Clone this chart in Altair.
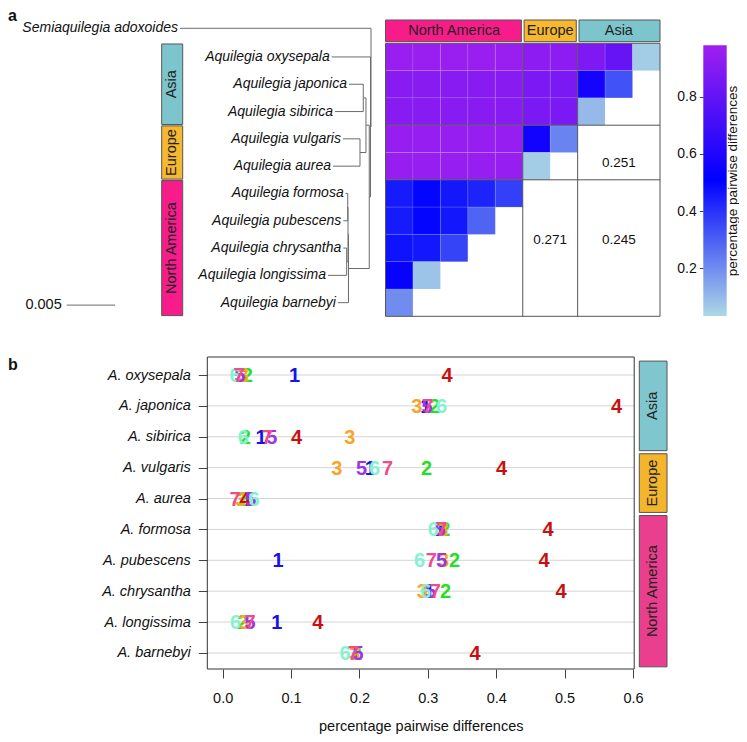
import altair as alt
import pandas as pd

FONT = "Liberation Sans"

# ---------------- data ----------------
SPECIES = ["oxysepala", "japonica", "sibirica", "vulgaris", "aurea",
           "formosa", "pubescens", "chrysantha", "longissima", "barnebyi"]
REGIONS = ["Asia", "Asia", "Asia", "Europe", "Europe",
           "North America", "North America", "North America",
           "North America", "North America"]
OUTGROUP = "Semiaquilegia adoxoides"

# panel a heatmap: rows = SPECIES (top->bottom), columns = SPECIES reversed (left->right)
HEAT_ROWS = [
    [0.96, 0.96, 0.96, 0.96, 0.96, 0.92, 0.92, 0.88, 0.81, 0.06],
    [0.91, 0.91, 0.91, 0.91, 0.91, 0.87, 0.87, 0.57, 0.33],
    [0.91, 0.91, 0.91, 0.91, 0.91, 0.87, 0.87, 0.10],
    [0.95, 0.95, 0.95, 0.95, 0.95, 0.56, 0.22],
    [0.95, 0.95, 0.95, 0.95, 0.95, 0.06],
    [0.45, 0.50, 0.46, 0.43, 0.37],
    [0.45, 0.50, 0.46, 0.29],
    [0.47, 0.46, 0.36],
    [0.53, 0.08],
    [0.20],
]
# block averages written in the empty upper blocks (row region, column region, value)
BLOCK_VALUES = [("North America", "Europe", 0.271),
                ("North America", "Asia", 0.245),
                ("Europe", "Asia", 0.251)]

# tree: depth from root (substitutions / site) and parent of every tip / node
TIP_DEPTH = {OUTGROUP: 0.01977, "oxysepala": 0.00407, "japonica": 0.00228,
             "sibirica": 0.00373, "vulgaris": 0.00290, "aurea": 0.00393,
             "formosa": 0.00262, "pubescens": 0.00287, "chrysantha": 0.00287,
             "longissima": 0.00445, "barnebyi": 0.00342}
NODE_DEPTH = {"root": 0.0, "n1": 0.00005, "n2": 0.00018, "n3": 0.00052,
              "n4": 0.00080, "n5": 0.00114, "n6": 0.00233, "n7": 0.00238,
              "n8": 0.00241, "n9": 0.00252}
PARENT = {OUTGROUP: "root", "oxysepala": "n1", "japonica": "n4", "sibirica": "n4",
          "vulgaris": "n5", "aurea": "n5", "formosa": "n8", "pubescens": "n8",
          "chrysantha": "n9", "longissima": "n9", "barnebyi": "n6",
          "n1": "root", "n2": "n1", "n3": "n2", "n4": "n3", "n5": "n3",
          "n6": "n2", "n7": "n6", "n8": "n7", "n9": "n7"}
SCALE_BAR = 0.005

COLORBAR_TICKS = [0.2, 0.4, 0.6, 0.8]

# panel b: pairwise differences for groups 1..7
GROUP_IDS = ["1", "2", "3", "4", "5", "6", "7"]
GROUP_COLORS = ["#1414e8", "#24e024", "#f7a52a", "#c81010", "#9a36e6", "#84f2cf", "#ee4c8e"]
PAIRWISE = [
    [0.105, 0.036, 0.030, 0.328, 0.025, 0.018, 0.024],   # oxysepala
    [0.297, 0.310, 0.284, 0.576, 0.299, 0.320, 0.300],   # japonica
    [0.056, 0.033, 0.186, 0.108, 0.072, 0.030, 0.065],   # sibirica
    [0.216, 0.298, 0.167, 0.408, 0.203, 0.222, 0.241],   # vulgaris
    [0.036, 0.029, 0.026, 0.033, 0.041, 0.046, 0.018],   # aurea
    [0.318, 0.325, 0.322, 0.476, 0.318, 0.308, 0.320],   # formosa
    [0.081, 0.339, 0.323, 0.470, 0.320, 0.288, 0.305],   # pubescens
    [0.302, 0.326, 0.292, 0.495, 0.304, 0.297, 0.311],   # chrysantha
    [0.079, 0.029, 0.031, 0.139, 0.040, 0.019, 0.040],   # longissima
    [0.195, 0.195, 0.193, 0.369, 0.198, 0.179, 0.191],   # barnebyi
]
X_TICKS = [0.0, 0.1, 0.2, 0.3, 0.4, 0.5, 0.6]

REGION_COLORS_A = {"North America": "#f81c8b", "Europe": "#f5b82e", "Asia": "#7cc5cd"}
REGION_COLORS_B = {"North America": "#ea3f8f", "Europe": "#f3b52c", "Asia": "#7fc6cf"}

# ---------------- layout helpers ----------------
W, H = 731, 726


def lin(domain, rng):
    return alt.Scale(domain=list(domain), range=list(rng), zero=False, nice=False)


HEAT_XS = lin([0, 10], [377.5, 652])
ROW_YS = lin([0, 10], [35.3, 308.3])
TREE_XS = lin([0, 0.04], [363, -23.4])
STRIP_A = lin([0, 1], [153.7, 174.7])
CB_XS = lin([0, 1], [695.3, 718.7])
CB_DOM = [0.033, 0.98]
CB_YS = lin(CB_DOM, [308.1, 37.2])
B_XDOM = [-0.0225, 0.6018]
B_YDOM = [-0.583, 9.52]
B_XS = lin(B_XDOM, [199.3, 626.2])
B_YS = lin(B_YDOM, [349, 661])
STRIP_B = lin([0, 1], [631.3, 659])


def spans(labels):
    out, start = [], 0
    for k in range(1, len(labels) + 1):
        if k == len(labels) or labels[k] != labels[start]:
            out.append((labels[start], start, k))
            start = k
    return out


ROW_SPANS = spans(REGIONS)
COL_SPANS = spans(REGIONS[::-1])
NCOL = len(SPECIES)

layers = []

# ---------------- panel a: tree ----------------
depth = {**TIP_DEPTH, **NODE_DEPTH}
children = {}
for c, p in PARENT.items():
    children.setdefault(p, []).append(c)
ypos = {OUTGROUP: -0.55}
for i, s in enumerate(SPECIES):
    ypos[s] = i + 0.5


def y_of(n):
    if n not in ypos:
        ys = [y_of(c) for c in children[n]]
        ypos[n] = (min(ys) + max(ys)) / 2
    return ypos[n]


y_of("root")
segs = []
for c, p in PARENT.items():
    segs.append(dict(x=depth[c], x2=depth[p], y=ypos[c], y2=ypos[c]))
for n, ch in children.items():
    ys = [ypos[c] for c in ch]
    segs.append(dict(x=depth[n], x2=depth[n], y=min(ys), y2=max(ys)))
seg_df = pd.DataFrame(segs)

layers.append(alt.Chart(seg_df).mark_rule(color="#6b6b6b", strokeWidth=1).encode(
    x=alt.X("x:Q", scale=TREE_XS, axis=None), x2="x2:Q",
    y=alt.Y("y:Q", scale=ROW_YS, axis=None), y2="y2:Q"))

tip_df = pd.DataFrame([
    dict(label=(n if n == OUTGROUP else "Aquilegia " + n), d=TIP_DEPTH[n], y=ypos[n])
    for n in TIP_DEPTH])
layers.append(alt.Chart(tip_df).mark_text(
    align="right", baseline="middle", dx=-2, font=FONT, fontSize=14,
    fontStyle="italic", color="#111").encode(
    x=alt.X("d:Q", scale=TREE_XS, axis=None),
    y=alt.Y("y:Q", scale=ROW_YS, axis=None), text="label:N"))

# scale bar
SB_START, SB_ROW = 0.0265, 9.59
sb_df = pd.DataFrame([dict(a=SB_START, b=SB_START + SCALE_BAR, y=SB_ROW, t=f"{SCALE_BAR:g}")])
layers.append(alt.Chart(sb_df).mark_rule(color="#6b6b6b", strokeWidth=1).encode(
    x=alt.X("a:Q", scale=TREE_XS, axis=None), x2="b:Q",
    y=alt.Y("y:Q", scale=ROW_YS, axis=None)))
layers.append(alt.Chart(sb_df).mark_text(
    align="right", baseline="middle", dx=-5, font=FONT, fontSize=14.5, color="#111").encode(
    x=alt.X("b:Q", scale=TREE_XS, axis=None),
    y=alt.Y("y:Q", scale=ROW_YS, axis=None), text="t:N"))

# region strip on the left of the tree
strip_a = pd.DataFrame([dict(region=r, y0=s + 0.025, y1=e - 0.025, ym=(s + e) / 2,
                             a=0, b=1, fill=REGION_COLORS_A[r]) for r, s, e in ROW_SPANS])
layers.append(alt.Chart(strip_a).mark_rect(stroke="#555", strokeWidth=1).encode(
    x=alt.X("a:Q", scale=STRIP_A, axis=None), x2="b:Q",
    y=alt.Y("y0:Q", scale=ROW_YS, axis=None), y2="y1:Q",
    color=alt.Color("fill:N", scale=None)))
strip_a["xm"] = 0.5
layers.append(alt.Chart(strip_a).mark_text(
    angle=270, align="center", baseline="middle", font=FONT, fontSize=14.5, color="#222").encode(
    x=alt.X("xm:Q", scale=STRIP_A, axis=None),
    y=alt.Y("ym:Q", scale=ROW_YS, axis=None), text="region:N"))

# ---------------- panel a: heatmap ----------------
heat = []
for i, row in enumerate(HEAT_ROWS):
    for j, v in enumerate(row):
        heat.append(dict(c0=j, c1=j + 1, r0=i, r1=i + 1, v=v))
heat_df = pd.DataFrame(heat)
heat_scale = alt.Scale(domain=[CB_DOM[0], 0.51, CB_DOM[1]],
                       range=["#add8e6", "#0000ff", "#a020f0"], interpolate="rgb")
layers.append(alt.Chart(heat_df).mark_rect(stroke="white", strokeWidth=0.4, strokeOpacity=0.25).encode(
    x=alt.X("c0:Q", scale=HEAT_XS, axis=None), x2="c1:Q",
    y=alt.Y("r0:Q", scale=ROW_YS, axis=None), y2="r1:Q",
    color=alt.Color("v:Q", scale=heat_scale, legend=None)))

# block separating lines and frame
lines = []
for _, s, e in COL_SPANS[1:]:
    lines.append(dict(x=s, x2=s, y=0, y2=len(SPECIES)))
for _, s, e in ROW_SPANS[1:]:
    lines.append(dict(x=0, x2=NCOL, y=s, y2=s))
layers.append(alt.Chart(pd.DataFrame(lines)).mark_rule(color="#555", strokeWidth=1).encode(
    x=alt.X("x:Q", scale=HEAT_XS, axis=None), x2="x2:Q",
    y=alt.Y("y:Q", scale=ROW_YS, axis=None), y2="y2:Q"))
frame_a = pd.DataFrame([dict(a=0, b=NCOL, c=0, d=len(SPECIES))])
layers.append(alt.Chart(frame_a).mark_rect(fill="white", fillOpacity=0, stroke="#555", strokeWidth=1).encode(
    x=alt.X("a:Q", scale=HEAT_XS, axis=None), x2="b:Q",
    y=alt.Y("c:Q", scale=ROW_YS, axis=None), y2="d:Q"))

# block values
row_span = {r: (s, e) for r, s, e in ROW_SPANS}
col_span = {r: (s, e) for r, s, e in COL_SPANS}
ROW_TEXT_SHIFT = {"North America": -0.3, "Europe": 0.38}
btxt = []
for rr, cr, v in BLOCK_VALUES:
    rs, re_ = row_span[rr]
    cs, ce = col_span[cr]
    btxt.append(dict(x=(cs + ce) / 2, y=(rs + re_) / 2 + ROW_TEXT_SHIFT[rr], t=f"{v:.3f}"))
layers.append(alt.Chart(pd.DataFrame(btxt)).mark_text(
    align="center", baseline="middle", font=FONT, fontSize=13.5, color="#111").encode(
    x=alt.X("x:Q", scale=HEAT_XS, axis=None),
    y=alt.Y("y:Q", scale=ROW_YS, axis=None), text="t:N"))

# header boxes above the heatmap
hdr = []
for r, s, e in COL_SPANS:
    hdr.append(dict(region=r, a=s + (0.05 if s > 0 else 0), b=e - (0.05 if e < NCOL else 0),
                    xm=(s + e) / 2, y0=-0.853, y1=-0.06, ym=-0.45, fill=REGION_COLORS_A[r]))
hdr_df = pd.DataFrame(hdr)
layers.append(alt.Chart(hdr_df).mark_rect(stroke="#555", strokeWidth=1).encode(
    x=alt.X("a:Q", scale=HEAT_XS, axis=None), x2="b:Q",
    y=alt.Y("y0:Q", scale=ROW_YS, axis=None), y2="y1:Q",
    color=alt.Color("fill:N", scale=None)))
layers.append(alt.Chart(hdr_df).mark_text(
    align="center", baseline="middle", font=FONT, fontSize=14.5, color="#222").encode(
    x=alt.X("xm:Q", scale=HEAT_XS, axis=None),
    y=alt.Y("ym:Q", scale=ROW_YS, axis=None), text="region:N"))

# ---------------- colorbar ----------------
mid_off = (0.51 - CB_DOM[0]) / (CB_DOM[1] - CB_DOM[0])
grad = alt.LinearGradient(gradient="linear", x1=0, x2=0, y1=1, y2=0, stops=[
    alt.GradientStop(color="#add8e6", offset=0),
    alt.GradientStop(color="#0000ff", offset=mid_off),
    alt.GradientStop(color="#a020f0", offset=1)])
cb_df = pd.DataFrame([dict(a=0, b=1, lo=CB_DOM[0], hi=CB_DOM[1])])
layers.append(alt.Chart(cb_df).mark_rect(fill=grad).encode(
    x=alt.X("a:Q", scale=CB_XS, axis=None), x2="b:Q",
    y=alt.Y("lo:Q", scale=CB_YS, axis=alt.Axis(
        orient="left", offset=-695.3, values=COLORBAR_TICKS, format=".1f",
        tickSize=4, tickColor="#444", domain=False, grid=False, title=None,
        labelFont=FONT, labelFontSize=14, labelColor="#111", labelPadding=3)),
    y2="hi:Q"))
layers.append(alt.Chart(pd.DataFrame([dict(t="percentage pairwise differences")])).mark_text(
    angle=270, align="center", baseline="middle", font=FONT, fontSize=13.5, color="#111").encode(
    x=alt.value(725), y=alt.value(173), text="t:N"))

# ---------------- panel b ----------------
grid_df = pd.DataFrame([dict(x0=B_XDOM[0], x1=B_XDOM[1], y=i) for i in range(len(SPECIES))])
label_js = "[" + ",".join(f"'A. {s}'" for s in SPECIES) + "][datum.value]"
layers.append(alt.Chart(grid_df).mark_rule(color="#d4d4d4", strokeWidth=1).encode(
    x=alt.X("x0:Q", scale=B_XS, axis=alt.Axis(
        orient="bottom", offset=661 - H, values=X_TICKS, format=".1f",
        tickSize=9, tickColor="#444", domain=False, grid=False,
        labelFont=FONT, labelFontSize=14.5, labelColor="#111", labelPadding=13,
        title="percentage pairwise differences", titleFont=FONT, titleFontSize=14.5,
        titleFontWeight="normal", titleColor="#111", titlePadding=15)),
    x2="x1:Q",
    y=alt.Y("y:Q", scale=B_YS, axis=alt.Axis(
        orient="left", offset=-199.3, values=list(range(len(SPECIES))), labelExpr=label_js,
        tickSize=9, tickColor="#444", domain=False, grid=False, title=None,
        labelFont=FONT, labelFontSize=14.5, labelFontStyle="italic", labelColor="#111",
        labelPadding=8))))

frame_b = pd.DataFrame([dict(a=B_XDOM[0], b=B_XDOM[1], c=B_YDOM[0], d=B_YDOM[1])])
layers.append(alt.Chart(frame_b).mark_rect(fill="white", fillOpacity=0, stroke="#333", strokeWidth=1).encode(
    x=alt.X("a:Q", scale=B_XS, axis=None), x2="b:Q",
    y=alt.Y("c:Q", scale=B_YS, axis=None), y2="d:Q"))

pts = []
for i, row in enumerate(PAIRWISE):
    for g, v in zip(GROUP_IDS, row):
        pts.append(dict(row=i, group=g, v=v))
pts_df = pd.DataFrame(pts)
layers.append(alt.Chart(pts_df).mark_text(
    align="center", baseline="middle", font=FONT, fontSize=20, fontWeight="bold", dy=1).encode(
    x=alt.X("v:Q", scale=B_XS, axis=None),
    y=alt.Y("row:Q", scale=B_YS, axis=None),
    text="group:N",
    color=alt.Color("group:N", scale=alt.Scale(domain=GROUP_IDS, range=GROUP_COLORS), legend=None)))

strip_b = pd.DataFrame([dict(region=r, y0=s - 0.45, y1=e - 0.55, ym=(s + e - 1) / 2,
                             a=0, b=1, xm=0.5, fill=REGION_COLORS_B[r]) for r, s, e in ROW_SPANS])
layers.append(alt.Chart(strip_b).mark_rect(stroke="#555", strokeWidth=1).encode(
    x=alt.X("a:Q", scale=STRIP_B, axis=None), x2="b:Q",
    y=alt.Y("y0:Q", scale=B_YS, axis=None), y2="y1:Q",
    color=alt.Color("fill:N", scale=None)))
layers.append(alt.Chart(strip_b).mark_text(
    angle=270, align="center", baseline="middle", font=FONT, fontSize=14.5, color="#222").encode(
    x=alt.X("xm:Q", scale=STRIP_B, axis=None),
    y=alt.Y("ym:Q", scale=B_YS, axis=None), text="region:N"))

# panel letters
layers.append(alt.Chart(pd.DataFrame([dict(t="a")])).mark_text(
    align="left", baseline="top", font=FONT, fontSize=16, fontWeight="bold", color="#111").encode(
    x=alt.value(0), y=alt.value(0), text="t:N"))
layers.append(alt.Chart(pd.DataFrame([dict(t="b")])).mark_text(
    align="left", baseline="alphabetic", font=FONT, fontSize=16, fontWeight="bold", color="#111").encode(
    x=alt.value(0), y=alt.value(362), text="t:N"))

chart = alt.layer(*layers).resolve_scale(
    x="independent", y="independent", color="independent"
).properties(
    width=W, height=H, padding=0, autosize=alt.AutoSizeParams(type="none")
).configure_view(stroke=None)

chart.save("out.html", embed_options={"renderer": "svg", "actions": False})
